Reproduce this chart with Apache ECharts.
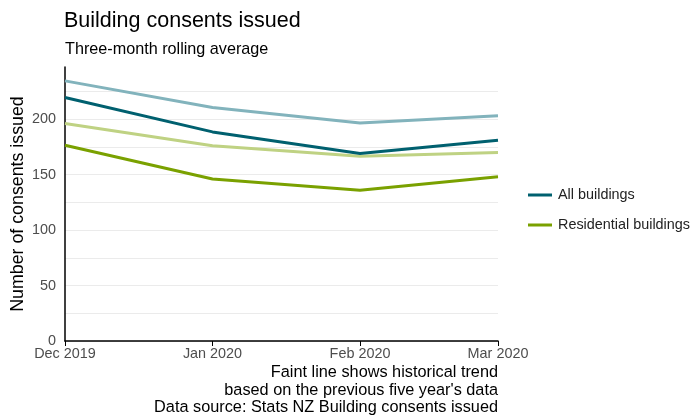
<!DOCTYPE html>
<html><head><meta charset="utf-8">
<script src="https://cdn.jsdelivr.net/npm/echarts@6/dist/echarts.min.js"></script>
<style>html,body{margin:0;padding:0;background:#fff}#c{width:690px;height:417px}</style>
</head><body><div id="c"></div>
<script>
var months = ['2019-12-01','2020-01-01','2020-02-01','2020-03-01'];
var monthLabels = ['Dec 2019','Jan 2020','Feb 2020','Mar 2020'];
var allBuildings = [219.5, 188.5, 169, 181];
var allHistorical = [234.5, 210.5, 196.5, 203];
var residential = [176.5, 146, 136, 148];
var residentialHistorical = [196, 176, 166.5, 170];
var yTicks = [0, 50, 100, 150, 200];
var notes = ['Faint line shows historical trend', "based on the previous five year's data", 'Data source: Stats NZ Building consents issued'];

function ts(s){var p=s.split('-');return Date.UTC(+p[0],+p[1]-1,+p[2]);}
var monthTs = months.map(ts);
function pairs(vals){return monthTs.map(function(t,i){return [t,vals[i]];});}

var font = 'Liberation Sans, Arial, sans-serif';
var chart = echarts.init(document.getElementById('c'), null, {renderer:'canvas'});
var gridColors = [];
for (var i=0;i<10;i++) gridColors.push('#ebebeb');
gridColors.push('rgba(0,0,0,0)');

var noteEls = notes.map(function(t,i){
  return {type:'text', right:192, top:365 + i*17.5, style:{text:t, fill:'#000', font:'16.3px ' + font, textAlign:'right'}};
});

chart.setOption({
  animation:false,
  textStyle:{fontFamily:font},
  title:[
    {text:'Building consents issued', left:64, top:10, padding:0, textStyle:{fontSize:21.5, fontWeight:'normal', color:'#000', fontFamily:font}},
    {text:'Three-month rolling average', left:65, top:41.5, padding:0, textStyle:{fontSize:16.2, fontWeight:'normal', color:'#000', fontFamily:font}}
  ],
  graphic: noteEls,
  legend:{
    data:['All buildings','Residential buildings'],
    orient:'vertical', left:528, top:188, itemGap:16, padding:0,
    itemWidth:24, itemHeight:3, icon:'rect',
    textStyle:{fontSize:14.4, color:'#222', fontFamily:font, padding:[0,0,0,1]}
  },
  grid:{left:65, right:192, top:67, bottom:76, containLabel:false, outerBoundsMode:'none'},
  xAxis:{
    type:'value', min:monthTs[0], max:monthTs[3],
    axisLine:{lineStyle:{color:'#000', width:1.5}},
    axisTick:{show:true, customValues:monthTs, length:5, lineStyle:{color:'#000'}},
    axisLabel:{customValues:monthTs, color:'#4d4d4d', fontSize:14.4, margin:6.5, fontFamily:font,
      formatter:function(v){var i=monthTs.indexOf(v);return i>=0?monthLabels[i]:'';}},
    splitLine:{show:false}
  },
  yAxis:{
    type:'value', min:0, max:247, interval:25,
    name:'Number of consents issued', nameLocation:'middle', nameGap:37.5, nameMoveOverlap:false,
    nameTextStyle:{fontSize:17.8, color:'#000', fontFamily:font},
    axisLine:{show:true, lineStyle:{color:'#000', width:1.5}},
    axisTick:{show:false},
    axisLabel:{color:'#4d4d4d', fontSize:14.4, margin:9, fontFamily:font,
      formatter:function(v){return yTicks.indexOf(v)>=0?String(v):'';}},
    splitLine:{show:true, lineStyle:{color:gridColors, width:1}}
  },
  series:[
    {name:'All buildings (historical)', type:'line', data:pairs(allHistorical), showSymbol:false, lineStyle:{width:3, color:'#82b3bc'}, itemStyle:{color:'#82b3bc'}, z:2},
    {name:'Residential buildings (historical)', type:'line', data:pairs(residentialHistorical), showSymbol:false, lineStyle:{width:3, color:'#bfd283'}, itemStyle:{color:'#bfd283'}, z:2},
    {name:'All buildings', type:'line', data:pairs(allBuildings), showSymbol:false, lineStyle:{width:3, color:'#00606f'}, itemStyle:{color:'#00606f'}, z:3},
    {name:'Residential buildings', type:'line', data:pairs(residential), showSymbol:false, lineStyle:{width:3, color:'#7aa100'}, itemStyle:{color:'#7aa100'}, z:3}
  ]
});
</script></body></html>
